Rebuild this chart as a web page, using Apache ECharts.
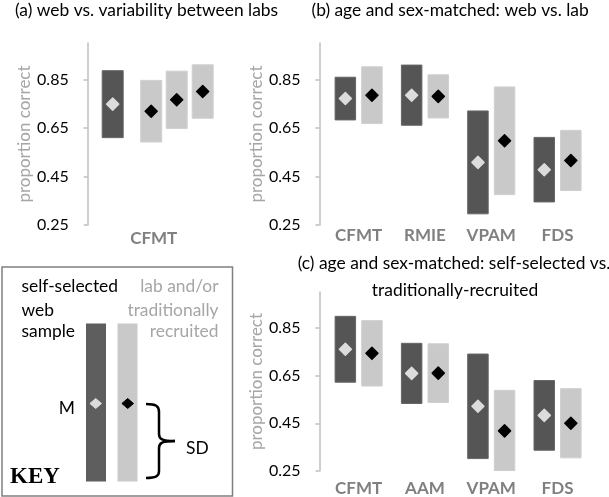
<!DOCTYPE html>
<html>
<head>
<meta charset="utf-8">
<script src="https://cdn.jsdelivr.net/npm/echarts@6/dist/echarts.min.js"></script>
<style>
  html, body { margin: 0; padding: 0; background: #fff; }
  #chart { width: 609px; height: 497px; }
</style>
</head>
<body>
<div id="chart"></div>
<script>
// ---------- data ----------
const yMin = 0.25;
const yMax = 1.0;
const yTicks = [0.25, 0.45, 0.65, 0.85];

// (a) web vs. variability between labs
const aCategories = ['CFMT'];
const aWebMean = [0.748];
const aWebSD = [0.138];
const aLabMean = [0.719, 0.766, 0.800];
const aLabSD = [0.127, 0.118, 0.110];

// (b) age and sex-matched: web vs. lab
const bCategories = ['CFMT', 'RMIE', 'VPAM', 'FDS'];
const bWebMean = [0.771, 0.785, 0.508, 0.478];
const bWebSD = [0.088, 0.124, 0.212, 0.133];
const bLabMean = [0.785, 0.780, 0.597, 0.516];
const bLabSD = [0.117, 0.089, 0.222, 0.124];

// (c) age and sex-matched: self-selected vs. traditionally-recruited
const cCategories = ['CFMT', 'AAM', 'VPAM', 'FDS'];
const cSelfMean = [0.760, 0.659, 0.521, 0.483];
const cSelfSD = [0.138, 0.126, 0.219, 0.146];
const cTradMean = [0.743, 0.660, 0.418, 0.450];
const cTradSD = [0.137, 0.123, 0.170, 0.145];

// ---------- styles / layout ----------
const FONT = 'Lato';
const DARK = '#555555';
const LIGHT = '#c9c9c9';
const DIAMOND_LIGHT = '#dcdcdc';
const DIAMOND_DARK = '#000000';
const AXIS_GRAY = '#bfbfbf';
const NAME_GRAY = '#a6a6a6';
const CAT_GRAY = '#808080';

const aLabOffsets = [-2.5, 23, 49];
const aWebOffsets = [-41];
const pairOffset = 13.3;

function rows(means, sds) {
  return means.map((m, i) => [i, m, sds[i]]);
}

function makeRender(offsets, width, fill, stroke, dFill) {
  return function (params, api) {
    const c = api.value(0), m = api.value(1), s = api.value(2);
    const off = offsets[Math.min(params.dataIndex, offsets.length - 1)];
    const top = api.coord([c, Math.min(m + s, yMax)]);
    const bot = api.coord([c, Math.max(m - s, yMin)]);
    const mid = api.coord([c, m]);
    const x = top[0] + off;
    const r = 6;
    return {
      type: 'group',
      children: [
        { type: 'rect', shape: { x: x - width / 2, y: top[1], width: width, height: bot[1] - top[1] },
          style: { fill: fill, stroke: stroke, lineWidth: 1 } },
        { type: 'polygon', shape: { points: [[x, mid[1] - r], [x + r, mid[1]], [x, mid[1] + r], [x - r, mid[1]]] },
          style: { fill: dFill, stroke: dFill, lineWidth: 1.5, lineJoin: 'round' } }
      ]
    };
  };
}

function yAxisCfg(gridIndex) {
  return {
    type: 'value', gridIndex: gridIndex, min: yMin, max: yMax, offset: 6,
    name: 'proportion correct', nameLocation: 'middle', nameGap: 54,
    nameTextStyle: { color: NAME_GRAY, fontSize: 17, fontFamily: FONT },
    axisLine: { show: true, lineStyle: { color: AXIS_GRAY, width: 1.5 } },
    axisTick: { show: true, length: 4, customValues: yTicks, lineStyle: { color: AXIS_GRAY, width: 1.5 } },
    axisLabel: { customValues: yTicks, margin: 19, color: '#000', fontSize: 16, fontFamily: FONT,
      formatter: v => v.toFixed(2) },
    splitLine: { show: false }
  };
}

function xAxisCfg(gridIndex, cats, margin) {
  return {
    type: 'category', gridIndex: gridIndex, data: cats,
    axisLine: { show: false }, axisTick: { show: false },
    axisLabel: { margin: margin, color: CAT_GRAY, fontSize: 17, fontWeight: 'bold', fontFamily: FONT, interval: 0 },
    splitLine: { show: false }
  };
}

const chart = echarts.init(document.getElementById('chart'), null, { renderer: 'canvas' });

const TFONT = '17.4px ' + FONT;
const titleStyle = (txt, x, y, align) => ({
  type: 'text', x: x, y: y,
  style: { text: txt, fill: '#000', font: TFONT, textAlign: align || 'left', textVerticalAlign: 'middle' }
});

const braceStyle = { fill: 'none', stroke: '#000', lineWidth: 2.5 };
const brace = [
  { type: 'bezierCurve', shape: { x1: 146, y1: 404, cpx1: 156, cpy1: 404, cpx2: 159, cpy2: 406, x2: 159, y2: 412 }, style: braceStyle },
  { type: 'line', shape: { x1: 159, y1: 412, x2: 159, y2: 434 }, style: braceStyle },
  { type: 'bezierCurve', shape: { x1: 159, y1: 434, cpx1: 159, cpy1: 439, cpx2: 162, cpy2: 441, x2: 175, y2: 441 }, style: braceStyle },
  { type: 'bezierCurve', shape: { x1: 175, y1: 441, cpx1: 162, cpy1: 441, cpx2: 159, cpy2: 443, x2: 159, y2: 448 }, style: braceStyle },
  { type: 'line', shape: { x1: 159, y1: 448, x2: 159, y2: 471 }, style: braceStyle },
  { type: 'bezierCurve', shape: { x1: 159, y1: 471, cpx1: 159, cpy1: 476, cpx2: 156, cpy2: 478, x2: 146, y2: 478 }, style: braceStyle }
];

chart.setOption({
  animation: false,
  grid: [
    { left: 93.7, right: 395.3, top: 43, bottom: 272 },
    { left: 325.5, right: 18.3, top: 43, bottom: 272 },
    { left: 325.5, right: 18.3, top: 292, bottom: 23.7 }
  ],
  xAxis: [
    xAxisCfg(0, aCategories, 5),
    xAxisCfg(1, bCategories, 2),
    xAxisCfg(2, cCategories, 9)
  ],
  yAxis: [yAxisCfg(0), yAxisCfg(1), yAxisCfg(2)],
  series: [
    { type: 'custom', xAxisIndex: 0, yAxisIndex: 0, clip: true,
      renderItem: makeRender(aWebOffsets, 21, DARK, '#666', DIAMOND_LIGHT), data: rows(aWebMean, aWebSD) },
    { type: 'custom', xAxisIndex: 0, yAxisIndex: 0, clip: true,
      renderItem: makeRender(aLabOffsets, 21, LIGHT, '#d0d0d0', DIAMOND_DARK),
      data: aLabMean.map((m, i) => [0, m, aLabSD[i]]) },
    { type: 'custom', xAxisIndex: 1, yAxisIndex: 1, clip: true,
      renderItem: makeRender([-pairOffset], 20.5, DARK, '#666', DIAMOND_LIGHT), data: rows(bWebMean, bWebSD) },
    { type: 'custom', xAxisIndex: 1, yAxisIndex: 1, clip: true,
      renderItem: makeRender([pairOffset], 20.5, LIGHT, '#d0d0d0', DIAMOND_DARK), data: rows(bLabMean, bLabSD) },
    { type: 'custom', xAxisIndex: 2, yAxisIndex: 2, clip: true,
      renderItem: makeRender([-pairOffset], 20.5, DARK, '#666', DIAMOND_LIGHT), data: rows(cSelfMean, cSelfSD) },
    { type: 'custom', xAxisIndex: 2, yAxisIndex: 2, clip: true,
      renderItem: makeRender([pairOffset], 20.5, LIGHT, '#d0d0d0', DIAMOND_DARK), data: rows(cTradMean, cTradSD) }
  ],
  graphic: [
    titleStyle('(a) web vs. variability between labs', 15, 10),
    titleStyle('(b) age and sex-matched: web vs. lab', 311.5, 10),
    titleStyle('(c) age and sex-matched: self-selected vs.', 454, 263, 'center'),
    titleStyle('traditionally-recruited', 455, 290, 'center'),
    // KEY box
    { type: 'rect', shape: { x: 2, y: 267, width: 230.5, height: 229 },
      style: { fill: 'none', stroke: '#808080', lineWidth: 1.5 } },
    { type: 'text', x: 21.5, y: 286, style: { text: 'self-selected', fill: '#000', font: TFONT, textVerticalAlign: 'middle' } },
    { type: 'text', x: 21.5, y: 310, style: { text: 'web', fill: '#000', font: TFONT, textVerticalAlign: 'middle' } },
    { type: 'text', x: 21.5, y: 331, style: { text: 'sample', fill: '#000', font: TFONT, textVerticalAlign: 'middle' } },
    { type: 'text', x: 218.5, y: 286, style: { text: 'lab and/or', fill: NAME_GRAY, font: TFONT, textAlign: 'right', textVerticalAlign: 'middle' } },
    { type: 'text', x: 218.5, y: 310, style: { text: 'traditionally', fill: NAME_GRAY, font: TFONT, textAlign: 'right', textVerticalAlign: 'middle' } },
    { type: 'text', x: 218.5, y: 331, style: { text: 'recruited', fill: NAME_GRAY, font: TFONT, textAlign: 'right', textVerticalAlign: 'middle' } },
    { type: 'rect', shape: { x: 86, y: 323.5, width: 20, height: 158 }, style: { fill: '#5e5e5e' } },
    { type: 'rect', shape: { x: 117.5, y: 323.5, width: 20, height: 158 }, style: { fill: LIGHT } },
    { type: 'polygon', shape: { points: [[95.7, 398.5], [101.5, 403.5], [95.7, 408.5], [89.9, 403.5]] },
      style: { fill: DIAMOND_LIGHT, stroke: DIAMOND_LIGHT, lineWidth: 1, lineJoin: 'round' } },
    { type: 'polygon', shape: { points: [[127.7, 398.5], [133.5, 403.5], [127.7, 408.5], [121.9, 403.5]] },
      style: { fill: '#000', stroke: '#000', lineWidth: 1, lineJoin: 'round' } },
    { type: 'text', x: 75, y: 408, style: { text: 'M', fill: '#000', font: TFONT, textAlign: 'right', textVerticalAlign: 'middle' } },
    ...brace,
    { type: 'text', x: 186, y: 448, style: { text: 'SD', fill: '#000', font: TFONT, textVerticalAlign: 'middle' } },
    { type: 'text', x: 10, y: 477, style: { text: 'KEY', fill: '#000', font: 'bold 23px "Liberation Serif", "DejaVu Serif", serif', textVerticalAlign: 'middle' } }
  ]
});
</script>
</body>
</html>
